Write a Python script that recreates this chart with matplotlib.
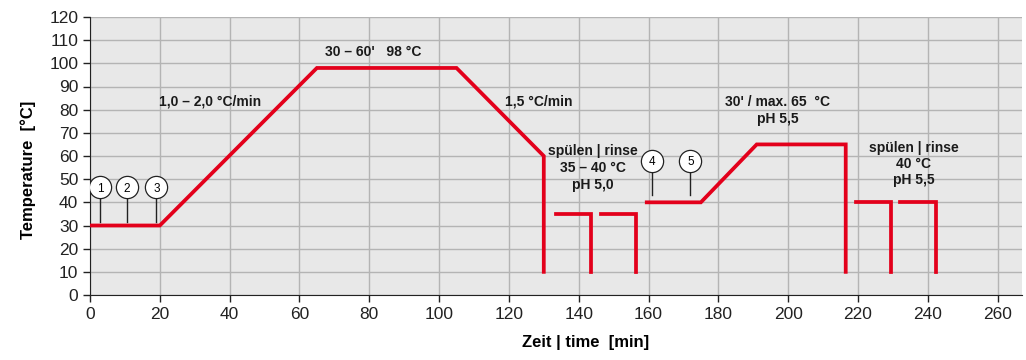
import matplotlib.pyplot as plt
import numpy as np

plt.rcParams['font.family'] = ['Liberation Sans', 'DejaVu Sans']

# main heating profile
main_x = [0, 20, 65, 105, 130, 130]
main_y = [30, 30, 98, 98, 60, 10]

# rinse steps (35-40 °C)
rinse1_x = [[133.5, 143.5, 143.5], [146.5, 156.5, 156.5]]
rinse1_y = [[35, 35, 10], [35, 35, 10]]

# second stage
stage2_x = [159.5, 175, 191, 216.5, 216.5]
stage2_y = [40, 40, 65, 65, 10]

# final rinse steps (40 °C)
rinse2_x = [[219.5, 229.5, 229.5], [232, 242.5, 242.5]]
rinse2_y = [[40, 40, 10], [40, 40, 10]]

# numbered markers
mark_labels = ['1', '2', '3', '4', '5']
mark_x = [3, 10.5, 19, 161, 172]
mark_y = [46.5, 46.5, 46.5, 58, 58]
stem_top = [42, 42, 42, 53.5, 53.5]
stem_bot = [31.5, 31.5, 31.5, 43, 43]

xticks = np.arange(0, 261, 20)
yticks = np.arange(0, 121, 10)

fig = plt.figure(figsize=(10.26, 3.6), dpi=100)
ax = fig.add_axes([90 / 1026, 1 - 295 / 360, (1022 - 90) / 1026, (295 - 17) / 360])
ax.set_facecolor('#e8e8e8')

red = '#e3001b'
lw = 2.7
ax.plot(main_x, main_y, color=red, lw=lw, solid_joinstyle='miter', zorder=3)
for xs, ys in zip(rinse1_x, rinse1_y):
    ax.plot(xs, ys, color=red, lw=lw, solid_joinstyle='miter', zorder=3)
ax.plot(stage2_x, stage2_y, color=red, lw=lw, solid_joinstyle='miter', zorder=3)
for xs, ys in zip(rinse2_x, rinse2_y):
    ax.plot(xs, ys, color=red, lw=lw, solid_joinstyle='miter', zorder=3)

for lab, x, y, t, b in zip(mark_labels, mark_x, mark_y, stem_top, stem_bot):
    ax.plot([x, x], [b, t], color='#222222', lw=1, zorder=3)
    ax.plot(x, y, 'o', ms=16, mfc='white', mec='#222222', mew=0.9, zorder=4)
    ax.text(x, y - 0.6, lab, ha='center', va='center', fontsize=8.5, zorder=5)

bold = dict(fontsize=10, fontweight='bold', ha='center', va='center', color='#1a1a1a')
ax.text(34.5, 83.7, '1,0 – 2,0 °C/min', **bold)
ax.text(81, 104.7, "30 – 60'   98 °C", **bold)
ax.text(128.5, 83.7, '1,5 °C/min', **bold)
ax.text(144, 54.8, 'spülen | rinse\n35 – 40 °C\npH 5,0', linespacing=1.25, **bold)
ax.text(197, 79.5, "30' / max. 65  °C\npH 5,5", linespacing=1.25, **bold)
ax.text(236, 56.5, 'spülen | rinse\n40 °C\npH 5,5', linespacing=1.2, **bold)

ax.set_xlim(0, 267)
ax.set_ylim(0, 120)
ax.set_xticks(xticks)
ax.set_yticks(yticks)
ax.grid(True, color='#b4b4b4', lw=1)
ax.set_axisbelow(True)
ax.tick_params(labelsize=12.5, length=5, width=1, direction='out', colors='#222222')
for s in ['top', 'right']:
    ax.spines[s].set_visible(False)
ax.spines['left'].set_color('#222222')
ax.spines['bottom'].set_color('#222222')

ax.set_xlabel('Zeit | time  [min]', fontsize=12, fontweight='bold')
ax.set_ylabel('Temperature  [°C]', fontsize=12, fontweight='bold')
ax.xaxis.set_label_coords(0.532, -0.145)
ax.yaxis.set_label_coords(-0.058, 0.45)

fig.savefig('out.png', dpi=100)
